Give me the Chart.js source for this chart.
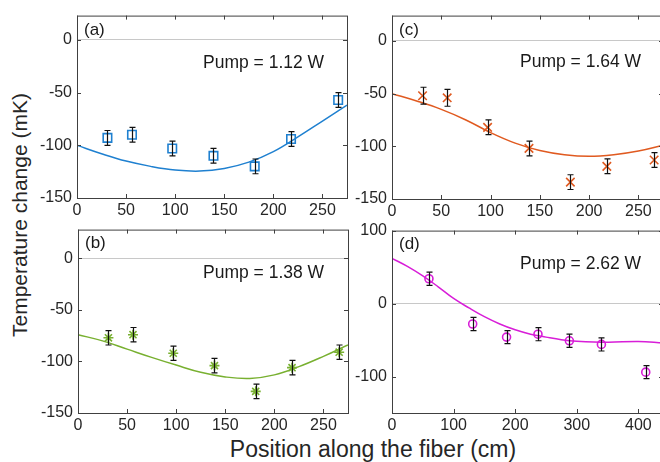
<!DOCTYPE html>
<html>
<head>
<meta charset="utf-8">
<script src="https://cdn.jsdelivr.net/npm/chart.js@4.4.0/dist/chart.umd.min.js"></script>
<style>
  html, body { margin: 0; padding: 0; background: #fff; width: 660px; height: 462px; overflow: hidden; }
  .panel { position: absolute; }
  .title { position: absolute; font-family: "Liberation Sans", Arial, sans-serif; color: #262626; white-space: nowrap; }
  #ytitle { font-size: 21px; left: 20px; top: 215px; transform: translate(-50%, -50%) rotate(-90deg); }
  #xtitle { font-size: 23px; left: 373px; top: 449px; transform: translate(-50%, -50%); }
</style>
</head>
<body>
<div class="title" id="ytitle">Temperature change (mK)</div>
<div class="title" id="xtitle">Position along the fiber (cm)</div>
<script>
// measured points (a), (b), (c) share positions
const posABC = [31, 56, 97, 139, 181, 218, 266];
const tempA = [-93, -90, -103, -110, -120, -94, -57];
const tempB = [-77, -74, -92, -104, -129, -106, -91];
const tempC = [-52, -54, -82, -102, -134, -119, -113];
const errA = [7, 7, 7, 7, 7, 7, 7];
const errB = [7, 7, 7, 7, 7, 7, 7];
const errC = [8, 8, 7, 7, 7, 7, 7];

const posD = [60, 131, 186, 237, 288, 340, 412];
const tempD = [34, -28, -46, -42, -51, -56, -94];
const errD = [9, 9, 9, 9, 9, 9, 9];

// fitted curves
const fitX = [0, 25, 50, 75, 100, 125, 150, 175, 200, 225, 250, 275];
const fitA = [-100, -108, -115, -120, -123.5, -124.5, -122, -116, -106, -92, -77, -62];
const fitB = [-74, -80, -88, -96, -103.5, -110.5, -115, -116.5, -113, -105, -95, -84];
const fitC = [-50, -57, -65, -75, -87, -97, -104, -108, -109.5, -108, -104.5, -99];
const fitXD = [0, 25, 50, 75, 100, 125, 150, 175, 200, 225, 250, 275, 300, 350, 400, 440];
const fitD = [62, 51, 38, 23, 7, -6, -18, -28, -36, -42, -46, -49.5, -51.5, -53, -52, -54];

const xTicksABC = [0, 50, 100, 150, 200, 250];
const xTicksD = [0, 100, 200, 300, 400];
const yTicksABC = [-150, -100, -50, 0];
const yTicksD = [-100, 0, 100];

Chart.defaults.font.family = '"Liberation Sans", Arial, sans-serif';
Chart.defaults.color = '#262626';

const frame = {
  id: 'frame',
  afterDatasetsDraw(chart) {
    const { ctx, scales: { x, y } } = chart;
    const ds = chart.data.datasets[1];
    ctx.save();
    ctx.strokeStyle = '#111';
    ctx.lineWidth = 1.2;
    ds.data.forEach((p, i) => {
      const px = Math.round(x.getPixelForValue(p.x)) + 0.5;
      const y1 = y.getPixelForValue(p.y - ds.errors[i]);
      const y2 = y.getPixelForValue(p.y + ds.errors[i]);
      ctx.beginPath();
      ctx.moveTo(px, y1); ctx.lineTo(px, y2);
      ctx.moveTo(px - 3, y1); ctx.lineTo(px + 3, y1);
      ctx.moveTo(px - 3, y2); ctx.lineTo(px + 3, y2);
      ctx.stroke();
    });
    ctx.restore();
  },
  afterDraw(chart, args, opts) {
    const { ctx, chartArea: a, scales: { x, y } } = chart;
    ctx.save();
    ctx.strokeStyle = '#404040';
    ctx.lineWidth = 1;
    ctx.beginPath();
    x.ticks.forEach(t => {
      const px = Math.round(x.getPixelForValue(t.value)) + 0.5;
      ctx.moveTo(px, a.bottom); ctx.lineTo(px, a.bottom - 4);
      ctx.moveTo(px, a.top); ctx.lineTo(px, a.top + 4);
    });
    y.ticks.forEach(t => {
      const py = Math.round(y.getPixelForValue(t.value)) + 0.5;
      ctx.moveTo(a.left, py); ctx.lineTo(a.left + 4, py);
      ctx.moveTo(a.right, py); ctx.lineTo(a.right - 4, py);
    });
    ctx.stroke();
    ctx.strokeRect(a.left + 0.5, a.top + 0.5, a.right - a.left, a.bottom - a.top);
    ctx.fillStyle = '#1a1a1a';
    ctx.textBaseline = 'middle';
    ctx.font = '17px "Liberation Sans", Arial, sans-serif';
    ctx.fillText(opts.tag, a.left + 7, a.top + opts.tagY);
    ctx.font = '17.5px "Liberation Sans", Arial, sans-serif';
    ctx.fillText(opts.pump, a.left + opts.pumpX, a.top + opts.pumpY);
    ctx.restore();
  }
};

function makePanel(box, setup) {
  const padL = 55, padT = 12, padR = 12, padB = 28;
  const wrap = document.createElement('div');
  wrap.className = 'panel';
  wrap.style.left = (box.left - padL) + 'px';
  wrap.style.top = (box.top - padT) + 'px';
  const cv = document.createElement('canvas');
  cv.width = box.w + padL + padR;
  cv.height = box.h + padT + padB;
  wrap.appendChild(cv);
  document.body.appendChild(wrap);

  new Chart(cv, {
    type: 'scatter',
    data: {
      datasets: [
        {
          data: setup.fitX.map((v, i) => ({ x: v, y: setup.fitY[i] })),
          showLine: true,
          borderColor: setup.color,
          borderWidth: 1.5,
          pointRadius: 0,
          tension: 0.4,
          fill: false,
        },
        {
          data: setup.pos.map((v, i) => ({ x: v, y: setup.temp[i] })),
          errors: setup.err,
          pointStyle: setup.marker,
          pointRadius: setup.radius,
          pointBorderColor: setup.color,
          pointBackgroundColor: 'rgba(0,0,0,0)',
          pointBorderWidth: 1.6,
        },
      ],
    },
    options: {
      responsive: false,
      animation: false,
      layout: { padding: { left: 0, top: padT, right: padR, bottom: 0 } },
      plugins: {
        legend: { display: false },
        tooltip: { enabled: false },
        frame: { tag: setup.tag, tagY: setup.tagY, pump: setup.pump, pumpX: setup.pumpX, pumpY: setup.pumpY },
      },
      scales: {
        x: {
          type: 'linear',
          min: 0,
          max: setup.xMax,
          afterBuildTicks: s => { s.ticks = setup.xTicks.map(v => ({ value: v })); },
          afterFit: s => { s.height = padB; },
          grid: { drawOnChartArea: false, drawTicks: false },
          border: { display: false },
          ticks: { font: { size: 16 }, padding: 3, maxRotation: 0, autoSkip: false },
        },
        y: {
          min: -150,
          max: setup.yMax,
          afterBuildTicks: s => { s.ticks = setup.yTicks.map(v => ({ value: v })); },
          afterFit: s => { s.width = padL; },
          grid: {
            drawTicks: false,
            color: c => (c.tick && c.tick.value === 0 ? '#c8c8c8' : 'rgba(0,0,0,0)'),
          },
          border: { display: false },
          ticks: { font: { size: 16 }, padding: 5 },
        },
      },
    },
    plugins: [frame],
  });
}

makePanel({ left: 77, top: 13, w: 270, h: 185 }, {
  pos: posABC, temp: tempA, err: errA, fitX: fitX, fitY: fitA,
  color: '#1f80d0', marker: 'rect', radius: 6,
  xMax: 275, yMax: 23, xTicks: xTicksABC, yTicks: yTicksABC,
  tag: '(a)', tagY: 15, pump: 'Pump = 1.12 W', pumpX: 126, pumpY: 48,
});
makePanel({ left: 78, top: 227, w: 270, h: 186 }, {
  pos: posABC, temp: tempB, err: errB, fitX: fitX, fitY: fitB,
  color: '#78b030', marker: 'star', radius: 5,
  xMax: 275, yMax: 28, xTicks: xTicksABC, yTicks: yTicksABC,
  tag: '(b)', tagY: 14, pump: 'Pump = 1.38 W', pumpX: 125, pumpY: 44,
});
makePanel({ left: 392, top: 13, w: 271, h: 186 }, {
  pos: posABC, temp: tempC, err: errC, fitX: fitX, fitY: fitC,
  color: '#e05a20', marker: 'crossRot', radius: 6,
  xMax: 275, yMax: 24, xTicks: xTicksABC, yTicks: yTicksABC,
  tag: '(c)', tagY: 15, pump: 'Pump = 1.64 W', pumpX: 128, pumpY: 47,
});
makePanel({ left: 392, top: 228, w: 271, h: 185 }, {
  pos: posD, temp: tempD, err: errD, fitX: fitXD, fitY: fitD,
  color: '#d81ed8', marker: 'circle', radius: 4,
  xMax: 440, yMax: 100, xTicks: xTicksD, yTicks: yTicksD,
  tag: '(d)', tagY: 14, pump: 'Pump = 2.62 W', pumpX: 128, pumpY: 34,
});
</script>
</body>
</html>
